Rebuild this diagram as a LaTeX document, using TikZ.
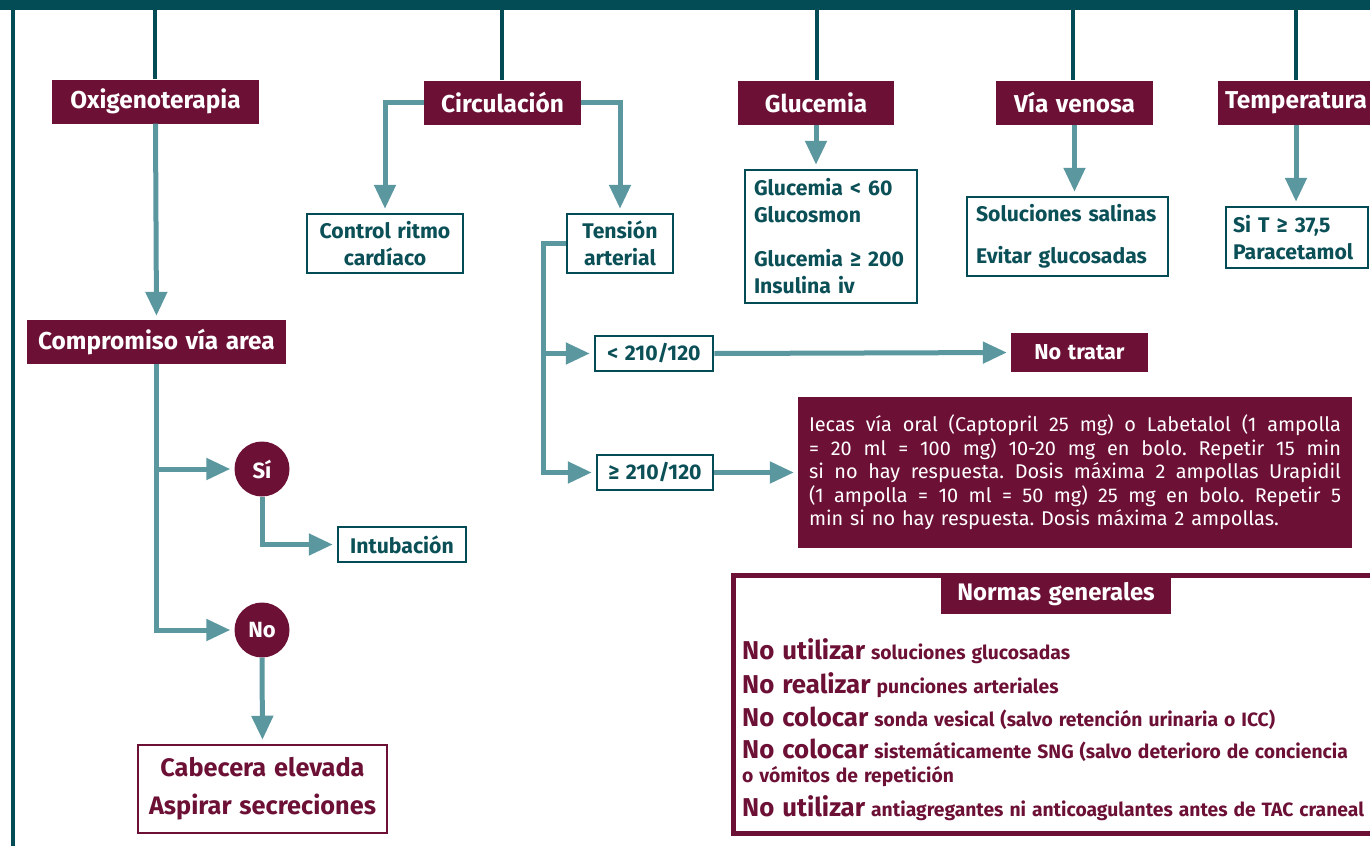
\documentclass[tikz,border=0pt]{standalone}
\usepackage{fontspec}
\setmainfont{Fira Sans}[WordSpace=1.3]
\usetikzlibrary{arrows.meta}
\definecolor{maroon}{HTML}{6D1035}
\definecolor{tealdark}{HTML}{034B55}
\definecolor{tealarrow}{HTML}{5A979F}
\definecolor{tealtext}{HTML}{0B4F57}
\newcommand{\fsz}[2]{\fontsize{#1}{#2}\selectfont}
\tikzset{
  hdr/.style={fill=maroon, text=white, font=\bfseries\fsz{24.4}{30}, inner sep=0pt, minimum height=44},
  tbox/.style={draw=tealdark, line width=2.5pt, fill=white, text=tealtext, font=\bfseries\fsz{21.2}{27}, inner sep=0pt},
  arr/.style={draw=tealarrow, line width=5pt, -{Triangle[width=21pt,length=24pt]}, shorten >=4pt},
  trunk/.style={draw=tealdark, line width=4pt},
  yesno/.style={circle, fill=maroon, text=white, font=\bfseries\fsz{22}{28}, minimum size=55, inner sep=0pt},
  normbold/.style={text=maroon, anchor=base west, inner sep=0pt, font=\bfseries\fsz{19.3}{24}}
}
\newcommand{\nb}[1]{{\fsz{25.8}{30}#1}}
\frenchspacing
\begin{document}
\begin{tikzpicture}[x=1pt,y=-1pt]
\useasboundingbox (0,0) rectangle (1370,846);
% frame
\fill[tealdark] (0,0) rectangle (1370,10);
\coordinate (fl) at (13,8);
\coordinate (fb) at (13,846);
\draw[trunk] (fl) -- (fb);
% headers
\node[hdr, minimum width=207] (ox) at (155.5,101.5) {Oxigenoterapia};
\node[hdr, minimum width=157] (circ) at (502.5,102.5) {Circulación};
\node[hdr, minimum width=156] (glu) at (816,102.5) {Glucemia};
\node[hdr, minimum width=157] (vv) at (1074.5,102.5) {Vía venosa};
\node[hdr, minimum width=156] (temp) at (1296,102.5) {Temperatura};
\foreach \n/\x in {ox/155,circ/502,glu/817,vv/1073,temp/1296}{
  \coordinate (t\n) at (\x,8);
  \draw[trunk] (t\n) -- (t\n |- \n.north);
}
% Circulacion
\node[tbox, minimum width=156, minimum height=59, align=center] (ctrl) at (385,243.5) {Control ritmo\\cardíaco};
\node[tbox, minimum width=106, minimum height=59, align=center] (tens) at (620,243.5) {Tensión\\arterial};
\draw[arr] (circ.west) -| (ctrl.north);
\draw[arr] (circ.east) -| (tens.north);
\node[tbox, minimum width=118, minimum height=35] (lt) at (654,353.5) {< 210/120};
\node[tbox, minimum width=116, minimum height=35] (ge) at (655,472.5) {≥ 210/120};
\coordinate (tb) at (543,472.5);
\draw[arr] (tens.west) -| (tb) -- (ge.west);
\draw[arr] (tb |- lt.west) -- (lt.west);
\node[fill=maroon, text=white, font=\bfseries\fsz{21.6}{27}, minimum width=137, minimum height=39, inner sep=0pt] (nt) at (1079.5,352.5) {No tratar};
\draw[arr] (lt.east) -- (nt.west);
\node[fill=maroon, text=white, font=\fsz{19.9}{23.5}, minimum width=554, minimum height=151, inner sep=0pt, text width=532, align=justify] (para) at (1075,472.5)
{Iecas vía oral (Captopril 25 mg) o Labetalol (1 ampolla\linebreak = 20 ml = 100 mg) 10-20 mg en bolo. Repetir 15 min\linebreak si no hay respuesta. Dosis máxima 2 ampollas Urapidil\linebreak (1 ampolla = 10 ml = 50 mg) 25 mg en bolo. Repetir 5\linebreak min si no hay respuesta. Dosis máxima 2 ampollas.};
\draw[arr] (ge.east) -- (para.west);
% Glucemia
\node[tbox, minimum width=172, minimum height=133, text width=154, align=left, font=\bfseries\fsz{21.2}{27}] (gbox) at (831,236.5)
{Glucemia < 60\\Glucosmon\\[17pt]Glucemia ≥ 200\\Insulina iv};
\draw[arr] (glu.south) -- (glu.south |- gbox.north);
% Via venosa
\node[tbox, minimum width=201, minimum height=79, text width=183, align=left, font=\bfseries\fsz{21.2}{42}] (vbox) at (1067.5,236.5)
{Soluciones salinas\\Evitar glucosadas};
\draw[arr] (vv.south) -- (vv.south |- vbox.north);
% Temperatura
\node[tbox, minimum width=142, minimum height=61, text width=128, align=left, font=\bfseries\fsz{21.2}{27}] (tbox) at (1297,237.5)
{Si T ≥ 37,5\\Paracetamol};
\draw[arr] (temp.south) -- (temp.south |- tbox.north);
% Oxigenoterapia
\node[hdr, minimum width=259] (comp) at (156.5,342) {Compromiso vía area};
\draw[arr] (ox.south) -- (comp.north);
\node[yesno] (si) at (262,469) {Sí};
\node[yesno] (no) at (262,630) {No};
\draw[arr] (comp.south) |- (no.west);
\draw[arr] (comp.south |- si.west) -- (si.west);
\node[tbox, minimum width=128, minimum height=35] (intub) at (402,544.5) {Intubación};
\draw[arr] (si.south) |- (intub.west);
\node[draw=maroon, line width=2.5pt, text=maroon, font=\bfseries\fsz{25.3}{38}, minimum width=249, minimum height=88, inner sep=0pt, align=center] (cab) at (262.5,789)
{Cabecera elevada\\Aspirar secreciones};
\draw[arr] (no.south) -- (cab.north);
% Normas generales
\coordinate (na) at (733,575);
\coordinate (nb) at (1375,833);
\draw[maroon, line width=5pt] (na) rectangle (nb);
\node[fill=maroon, text=white, font=\bfseries\fsz{23.9}{30}, minimum width=230, minimum height=39, inner sep=0pt] (ngt) at (1056,594.5) {Normas generales};
\node[normbold] (n1) at (742,659) {\nb{No utilizar} soluciones glucosadas};
\node[normbold] (n2) at (742,693) {\nb{No realizar} punciones arteriales};
\node[normbold] (n3) at (742,726) {\nb{No colocar} sonda vesical (salvo retención urinaria o ICC)};
\node[normbold] (n4) at (742,758) {\nb{No colocar} sistemáticamente SNG (salvo deterioro de conciencia};
\node[normbold] (n5) at (742,782) {o vómitos de repetición};
\node[normbold] (n6) at (742,816) {\nb{No utilizar} antiagregantes ni anticoagulantes antes de TAC craneal};
\end{tikzpicture}
\end{document}
